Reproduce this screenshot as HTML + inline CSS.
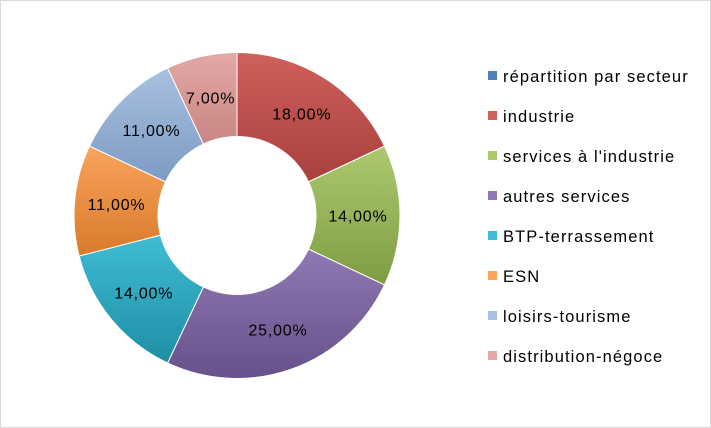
<!DOCTYPE html>
<html><head><meta charset="utf-8"><style>
html,body{margin:0;padding:0;background:#fff;}
svg{display:block;font-family:"Liberation Sans",sans-serif;}
</style></head><body>
<svg id="chart" width="711" height="428" viewBox="0 0 711 428">
<rect x="0.5" y="0.5" width="710" height="427" fill="#fff" stroke="#d9d9d9"/>
<defs id="defs"></defs>
<g id="slices"></g><g id="labels"></g><g id="legend"></g>
</svg>
<script>
const categories=["répartition par secteur","industrie","services à l'industrie","autres services","BTP-terrassement","ESN","loisirs-tourisme","distribution-négoce"];
const values=[0,18,14,25,14,11,11,7];
const valueLabels=["0,00%","18,00%","14,00%","25,00%","14,00%","11,00%","11,00%","7,00%"];
const colors=[["#4f81bd","#3a6aa0"],["#d0605c","#a8403d"],["#acc96e","#7e9d43"],["#9078b2","#68508a"],["#3fbcd3","#1f8ea5"],["#f9a35c","#d87a2b"],["#a9c1e0","#7d9bc4"],["#e3a9a7","#c88583"]];
const NS="http://www.w3.org/2000/svg";
const cx=237,cy=215.5,R=163,r=79;
const defs=document.getElementById('defs'),gS=document.getElementById('slices'),gL=document.getElementById('labels'),gG=document.getElementById('legend');
const total=values.reduce((a,b)=>a+b,0);
function pt(rad,a){return [cx+rad*Math.sin(a),cy-rad*Math.cos(a)];}
let acc=0;
values.forEach((v,i)=>{
  const gr=document.createElementNS(NS,'linearGradient');
  gr.setAttribute('id','g'+i);gr.setAttribute('x1','0');gr.setAttribute('y1','0');gr.setAttribute('x2','0');gr.setAttribute('y2','1');
  gr.innerHTML=`<stop offset="0" stop-color="${colors[i][0]}"/><stop offset="1" stop-color="${colors[i][1]}"/>`;
  defs.appendChild(gr);
  if(v>0){
    const a0=acc/total*2*Math.PI,a1=(acc+v)/total*2*Math.PI;
    const large=(a1-a0)>Math.PI?1:0;
    const p0=pt(R,a0),p1=pt(R,a1),q1=pt(r,a1),q0=pt(r,a0);
    const p=document.createElementNS(NS,'path');
    p.setAttribute('d',`M${p0}A${R},${R} 0 ${large} 1 ${p1}L${q1}A${r},${r} 0 ${large} 0 ${q0}Z`);
    p.setAttribute('fill','url(#g'+i+')');p.setAttribute('stroke','#fff');p.setAttribute('stroke-width','1');
    
    
    gS.appendChild(p);
    const am=(a0+a1)/2,lp=pt((R+r)/2,am);
    const t=document.createElementNS(NS,'text');
    t.setAttribute('x',lp[0]);t.setAttribute('y',lp[1]+6);t.setAttribute('text-anchor','middle');t.setAttribute('font-size','16');t.setAttribute('letter-spacing','0.8');t.setAttribute('fill','#000');
    t.textContent=valueLabels[i];
    
    
    gL.appendChild(t);
    acc+=v;
  }
  const y=76+i*40;
  const s=document.createElementNS(NS,'rect');
  s.setAttribute('x',488);s.setAttribute('y',y-5);s.setAttribute('width',9);s.setAttribute('height',9);s.setAttribute('fill',colors[i][0]);
  
  
  gG.appendChild(s);
  const lt=document.createElementNS(NS,'text');
  lt.setAttribute('x',503);lt.setAttribute('y',y+6);lt.setAttribute('font-size','16.5');lt.setAttribute('letter-spacing','1.1');lt.setAttribute('fill','#000');
  lt.textContent=categories[i];
  
  
  gG.appendChild(lt);
});
</script>
</body></html>
